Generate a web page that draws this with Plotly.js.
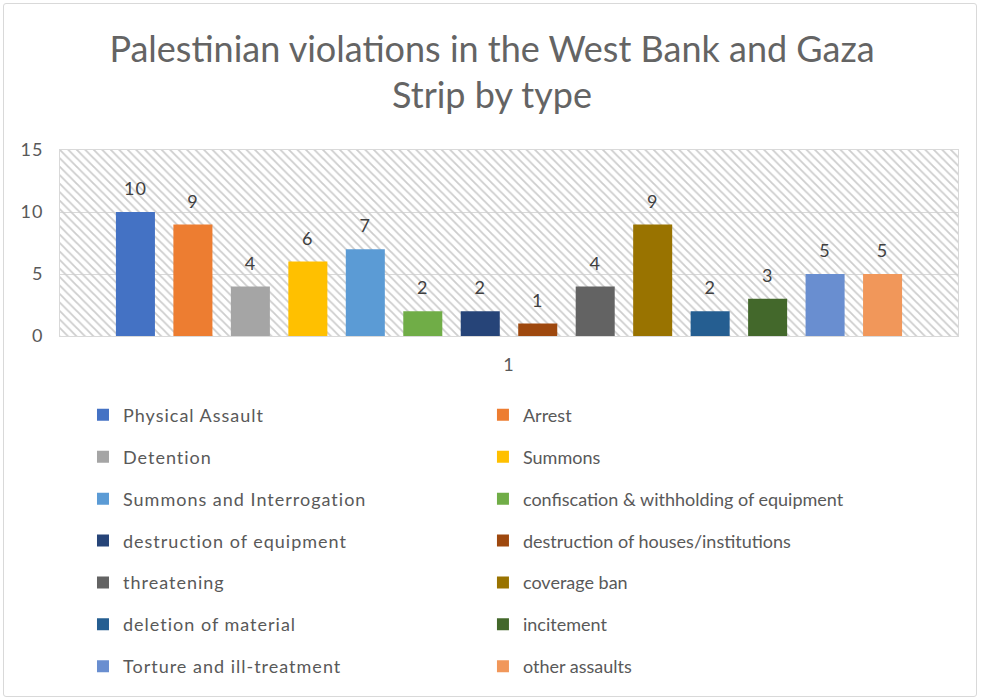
<!DOCTYPE html>
<html>
<head>
<meta charset="utf-8">
<script src="https://cdn.plot.ly/plotly-3.0.1.min.js"></script>
<style>
  html, body { margin: 0; padding: 0; background: #ffffff; }
  #chart { width: 984px; height: 699px; }
  #frame { position: absolute; left: 3px; top: 3px; width: 972px; height: 692px;
           border: 1px solid #d9d9d9; border-radius: 3px; pointer-events: none; }
  .legendtext, .ytick text, .x2tick text, .textpoint text {
    letter-spacing: 1px;
  }
</style>
</head>
<body>
<div id="chart"></div>
<div id="frame"></div>
<script>
const categories = ["1"];
const seriesNames = [
  "Physical Assault", "Arrest", "Detention", "Summons",
  "Summons and Interrogation", "confiscation & withholding of equipment",
  "destruction of equipment", "destruction of houses/institutions",
  "threatening", "coverage ban", "deletion of material", "incitement",
  "Torture and ill-treatment", "other assaults"
];
const seriesValues = [10, 9, 4, 6, 7, 2, 2, 1, 4, 9, 2, 3, 5, 5];
const seriesColors = [
  "#4472C4", "#ED7D31", "#A5A5A5", "#FFC000", "#5B9BD5", "#70AD47",
  "#264478", "#9E480E", "#636363", "#997300", "#255E91", "#43682B",
  "#698ED0", "#F1975A"
];
const yTickValues = [0, 5, 10, 15];

const FONT = "Lato, 'Open Sans', sans-serif";
const textGray = "#595959";
const BARGAP = 0.104;

const traces = [];
// hatched plot-area background
traces.push({
  type: "bar", x: [0.5], y: [Math.max(...yTickValues)], width: [1],
  xaxis: "x", yaxis: "y", showlegend: false, hoverinfo: "skip",
  marker: { color: "rgba(0,0,0,0)", line: { width: 0 },
    pattern: { shape: "\\", fillmode: "replace", fgcolor: "#cdcdcd",
               bgcolor: "rgba(0,0,0,0)", size: 6, solidity: 0.3 } }
});
seriesNames.forEach((name, i) => {
  traces.push({
    type: "bar", name: name, x: categories, y: [seriesValues[i]],
    xaxis: "x2", yaxis: "y", offsetgroup: "s" + i,
    marker: { color: seriesColors[i], line: { width: 0 } },
    legend: i % 2 === 0 ? "legend" : "legend2",
    legendgroup: "g" + i
  });
});
// data labels, grouped the same way as the bars
seriesNames.forEach((name, i) => {
  traces.push({
    type: "scatter", mode: "markers+text", x: categories, y: [seriesValues[i]],
    xaxis: "x2", yaxis: "y", showlegend: false, hoverinfo: "skip",
    offsetgroup: "s" + i, cliponaxis: false,
    marker: { size: 18, opacity: 0, color: seriesColors[i] },
    text: [String(seriesValues[i])], textposition: "top center",
    textfont: { family: FONT, size: 18, color: "#404040" }
  });
});

const legendCommon = {
  orientation: "v", traceorder: "grouped", tracegroupgap: 15.5,
  font: { family: FONT, size: 18, color: textGray },
  bgcolor: "rgba(0,0,0,0)", itemwidth: 30, itemclick: false, itemdoubleclick: false,
  xanchor: "left", yanchor: "top", yref: "paper", xref: "paper"
};

const layout = {
  width: 984, height: 699,
  margin: { l: 60, r: 26, t: 150, b: 363, autoexpand: false },
  paper_bgcolor: "#ffffff", plot_bgcolor: "#ffffff",
  hovermode: false,
  title: {
    text: "Palestinian violations in the West Bank and Gaza<br>Strip by type",
    font: { family: FONT, size: 36, color: "#646464" },
    x: 0.5, xanchor: "center", xref: "container",
    y: 0.912, yanchor: "middle", yref: "container"
  },
  barmode: "group", bargap: BARGAP, bargroupgap: 0.321,
  scattermode: "group", scattergap: BARGAP,
  xaxis: { range: [0, 1], showticklabels: false, showgrid: false, zeroline: false,
           showline: true, mirror: true, linecolor: "#d9d9d9", linewidth: 1, fixedrange: true },
  xaxis2: { overlaying: "x", type: "category", side: "bottom", showgrid: false,
            showline: false, zeroline: false, ticks: "", ticklabelstandoff: 16,
            tickfont: { family: FONT, size: 18, color: textGray } },
  yaxis: { range: [0, 15], tickvals: yTickValues, showgrid: true, gridcolor: "#d9d9d9",
           zeroline: false, showline: true, mirror: true, linecolor: "#d9d9d9",
           ticks: "", ticklabelstandoff: 12,
           tickfont: { family: FONT, size: 18, color: textGray } },
  showlegend: true,
  legend: Object.assign({}, legendCommon, { x: 0.0256, y: -0.326 }),
  legend2: Object.assign({}, legendCommon, { x: 0.471, y: -0.326 })
};

Plotly.newPlot("chart", traces, layout, { displayModeBar: false, staticPlot: true });
</script>
</body>
</html>
